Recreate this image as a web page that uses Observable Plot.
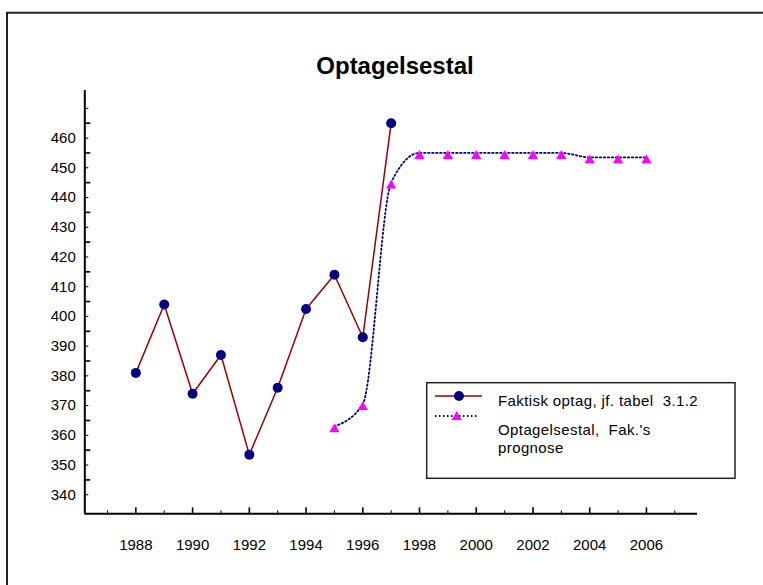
<!DOCTYPE html>
<html><head><meta charset="utf-8">
<script src="https://cdn.jsdelivr.net/npm/d3@7"></script>
<script src="https://cdn.jsdelivr.net/npm/@observablehq/plot@0.6"></script>
<style>
body{margin:0;background:#fff;}
#wrap{position:relative;width:763px;height:585px;overflow:hidden;font-family:"Liberation Sans",Arial,sans-serif;}
#wrap svg{position:absolute;left:0;top:0;}
</style></head><body><div id="wrap"></div>
<script>
// ---- data ----
const title = "Optagelsestal";
const factYears = [1988, 1989, 1990, 1991, 1992, 1993, 1994, 1995, 1996, 1997];
const factValues = [381, 404, 374, 387, 353.5, 376, 402.5, 414, 393, 465];
const progYears = [1995, 1996, 1997, 1998, 1999, 2000, 2001, 2002, 2003, 2004, 2005, 2006];
const progValues = [363, 370.5, 445, 455, 455, 455, 455, 455, 455, 453.5, 453.5, 453.5];
const xLabelYears = [1988, 1990, 1992, 1994, 1996, 1998, 2000, 2002, 2004, 2006];
const xMinorYears = [1987, 1989, 1991, 1993, 1995, 1997, 1999, 2001, 2003, 2005, 2007];
const yLabels = [340, 350, 360, 370, 380, 390, 400, 410, 420, 430, 440, 450, 460];
const yMajorTicks = [345, 355, 365, 375, 385, 395, 405, 415, 425, 435, 445, 455, 465];
const yMinorTicks = [340, 350, 360, 370, 380, 390, 400, 410, 420, 430, 440, 450, 460, 470];
const xDomain = [1986.2, 2007.8];
const yDomain = [333.6, 476];
const legendLines = ["Faktisk optag, jf. tabel  3.1.2", "Optagelsestal,  Fak.'s", "prognose"];

const fact = factYears.map((x, i) => ({x, y: factValues[i]}));
const prog = progYears.map((x, i) => ({x, y: progValues[i]}));

const FONT = '"Liberation Sans", Arial, sans-serif';
const LINE_RED = "#990000", NAVY = "#000080", MAGENTA = "#ff00ff";

const chart = Plot.plot({
  width: 763, height: 585,
  marginLeft: 84.3, marginRight: 66, marginTop: 90, marginBottom: 71.7,
  x: {domain: xDomain},
  y: {domain: yDomain},
  style: {fontFamily: FONT, fontSize: "15px", color: "#000", background: "transparent", overflow: "visible"},
  marks: [
    Plot.axisY(yLabels, {tickSize: 0, tickPadding: 9, label: null, fontSize: 15, tickFormat: d => String(d)}),
    Plot.axisY(yMajorTicks, {tickSize: -6, tickFormat: () => "", label: null, strokeWidth: 1.6}),
    Plot.axisY(yMinorTicks, {tickSize: -4, tickFormat: () => "", label: null}),
    Plot.axisX(xLabelYears, {tickSize: 0, tickPadding: 26, label: null, fontSize: 15, tickFormat: d => String(d)}),
    Plot.axisX(xLabelYears, {tickSize: -6, tickFormat: () => "", label: null, strokeWidth: 1.6}),
    Plot.axisX(xMinorYears, {tickSize: -3, tickFormat: () => "", label: null}),
    Plot.ruleX([xDomain[0]], {stroke: "#000", strokeWidth: 2}),
    Plot.ruleY([yDomain[0]], {stroke: "#000", strokeWidth: 2}),
    Plot.line(prog, {x: "x", y: "y", stroke: NAVY, strokeWidth: 1.8, strokeDasharray: "1.5,2.5", curve: "monotone-x"}),
    Plot.dot(prog, {x: "x", y: "y", symbol: "triangle", fill: MAGENTA, stroke: "none", r: 3.8, dy: 3}),
    Plot.line(fact, {x: "x", y: "y", stroke: LINE_RED, strokeWidth: 1.5}),
    Plot.dot(fact, {x: "x", y: "y", fill: NAVY, stroke: "none", r: 5})
  ]
});
const wrap = document.getElementById("wrap");
wrap.appendChild(chart);

// ---- overlay: frame, title, legend ----
const ns = "http://www.w3.org/2000/svg";
const ov = d3.create("svg").attr("width", 763).attr("height", 585).attr("font-family", FONT);
ov.append("path").attr("d", "M7,590V12.7H770").attr("fill", "none").attr("stroke", "#222").attr("stroke-width", 2);
ov.append("text").attr("x", 395).attr("y", 74.3).attr("text-anchor", "middle")
  .attr("font-weight", "bold").attr("font-size", 24).text(title);

const lg = ov.append("g");
lg.append("rect").attr("x", 426.7).attr("y", 382.7).attr("width", 308.3).attr("height", 95.6)
  .attr("fill", "#fff").attr("stroke", "#222").attr("stroke-width", 1.5);
lg.append("line").attr("x1", 435).attr("x2", 482).attr("y1", 396).attr("y2", 396)
  .attr("stroke", LINE_RED).attr("stroke-width", 1.5);
lg.append("circle").attr("cx", 459).attr("cy", 396).attr("r", 5).attr("fill", NAVY);
lg.append("line").attr("x1", 435).attr("x2", 478).attr("y1", 416).attr("y2", 416)
  .attr("stroke", NAVY).attr("stroke-width", 1.8).attr("stroke-dasharray", "1.5,2.5");
lg.append("path").attr("d", d3.symbol(d3.symbolTriangle, 3.8 * 3.8 * Math.PI)())
  .attr("transform", "translate(456.7,417)").attr("fill", MAGENTA);
const baselines = [405.7, 435, 452.5];
legendLines.forEach((t, i) => {
  lg.append("text").attr("x", 498).attr("y", baselines[i]).attr("font-size", 15)
    .attr("letter-spacing", "0.4px").style("white-space", "pre").text(t);
});
wrap.appendChild(ov.node());
</script></body></html>
